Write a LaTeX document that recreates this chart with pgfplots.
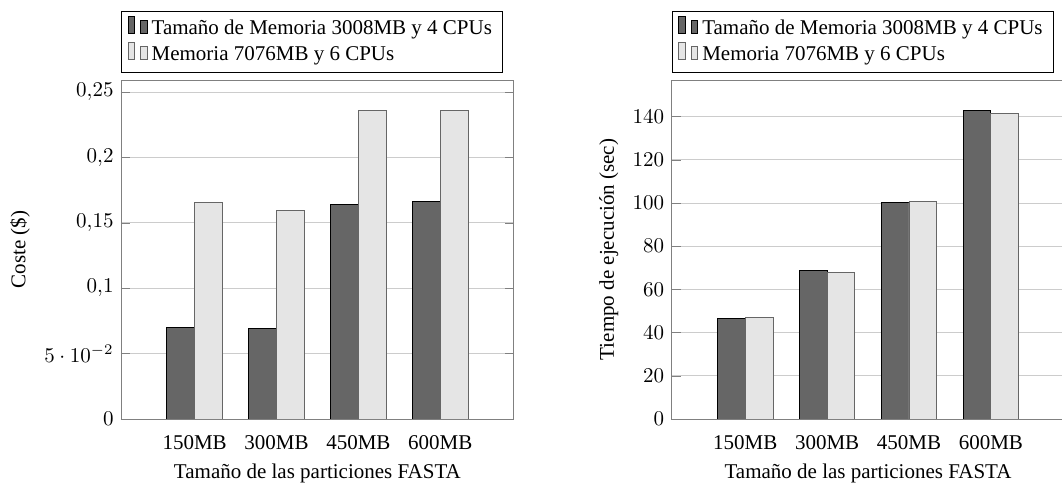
\documentclass[border=0pt]{standalone}
\usepackage{fontspec}
\setmainfont{Liberation Serif}
\usepackage{pgfplots}
\pgfplotsset{compat=1.18}
\pgfplotsset{
  mybar/.style={
    scale only axis, height=161.4pt,
    anchor=south west,
    ybar=0pt, bar width=13.2pt,
    xmin=-0.9, xtick={0,1,2,3},
    xticklabels={150MB,300MB,450MB,600MB},
    major x tick style={draw=none},
    ymin=0,
    ymajorgrids, grid style={black!20},
    axis line style={black!50}, ytick style={black!50},
    xlabel={Tamaño de las particiones FASTA},
    legend style={at={(0,1.022)}, anchor=south west, cells={anchor=west}, draw=black},
    yticklabel style={/pgf/number format/use comma},
  },
  darkbar/.style={fill=black!60, draw=black},
  lightbar/.style={fill=black!10, draw=black!60},
}
\begin{document}
\begin{tikzpicture}
\useasboundingbox (-57.6pt,-31.9pt) rectangle (448.1pt,199.5pt);
\begin{axis}[mybar, at={(0pt,0pt)}, width=187.1pt, xmax=3.9,
  ymax=0.2593, ytick={0,0.05,0.1,0.15,0.2,0.25},
  ylabel={Coste (\$)}]
\addplot[darkbar] coordinates {(0,0.0703) (1,0.0690) (2,0.1644) (3,0.1667)};
\addplot[lightbar] coordinates {(0,0.1654) (1,0.1595) (2,0.2357) (3,0.2357)};
\legend{Tamaño de Memoria 3008MB y 4 CPUs, Memoria 7076MB y 6 CPUs}
\draw[black] (rel axis cs:0,0) -- (rel axis cs:1,0);
\end{axis}
\begin{axis}[mybar, at={(262.2pt,0pt)}, width=191.1pt, xmax=4.0026,
  xlabel style={at={(ticklabel cs:0.4895)}},
  ymax=156.9, ytick={0,20,40,60,80,100,120,140},
  ylabel={Tiempo de ejecución (sec)}]
\addplot[darkbar] coordinates {(0,46.6) (1,68.9) (2,100.2) (3,142.6)};
\addplot[lightbar] coordinates {(0,47.0) (1,68.0) (2,100.7) (3,141.4)};
\legend{Tamaño de Memoria 3008MB y 4 CPUs, Memoria 7076MB y 6 CPUs}
\draw[black] (rel axis cs:0,0) -- (rel axis cs:1,0);
\end{axis}
\end{tikzpicture}
\end{document}
